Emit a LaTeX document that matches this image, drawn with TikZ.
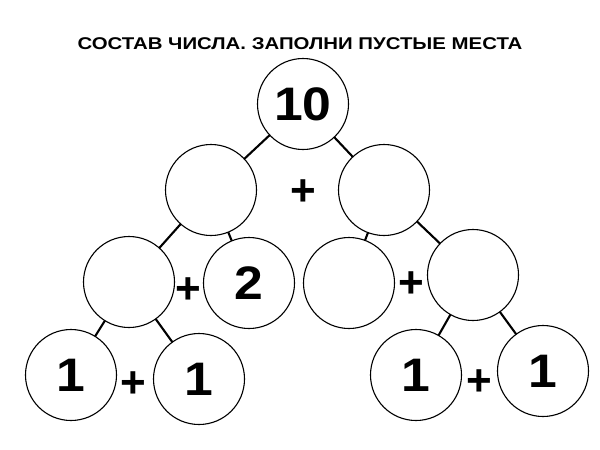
\documentclass[tikz,border=0pt]{standalone}
\usepackage{fontspec}
\setmainfont{Liberation Sans}
\newcommand{\digs}[1]{\scalebox{1.1}[1]{#1}}
\begin{document}
\begin{tikzpicture}[x=1pt,y=-1pt,
  num/.style={circle,draw=black,line width=1.1pt,minimum size=91pt,inner sep=0pt,outer sep=0pt,
    font=\fontsize{47}{47}\selectfont\bfseries},
  plussign/.style={inner sep=0pt,font=\fontsize{44}{44}\selectfont\bfseries},
  link/.style={line width=2.1pt,draw=black},
  titletext/.style={anchor=base,inner sep=0pt,font=\fontsize{17}{17}\selectfont\bfseries}]
\fill[white] (0,0) rectangle (600,450);
\useasboundingbox (0,0) rectangle (600,450);
\node[titletext] (title) at (300,49) {\scalebox{1.2}[1]{СОСТАВ ЧИСЛА. ЗАПОЛНИ ПУСТЫЕ МЕСТА}};
% circles
\node[num] (A) at (303,104) {\digs{10}};
\node[num] (B) at (211,190) {};
\node[num] (C) at (384,190) {};
\node[num] (D) at (129,282) {};
\node[num] (E) at (249,283) {\digs{2}};
\node[num] (F) at (349,283) {};
\node[num] (G) at (473,275) {};
\node[num] (H) at (71,375) {\digs{1}};
\node[num] (I) at (199,379) {\digs{1}};
\node[num] (J) at (416,375) {\digs{1}};
\node[num] (K) at (543,371) {\digs{1}};
% plus signs
\node[plussign] (p1) at (303,193) {+};
\node[plussign] (p2) at (188,291) {+};
\node[plussign] (p3) at (411,285) {+};
\node[plussign] (p4) at (133,385) {+};
\node[plussign] (p5) at (479,383) {+};
% connectors
\draw[link] (A) -- (B);
\draw[link] (A) -- (C);
\draw[link] (B) -- (D);
\draw[link] (B) -- (E);
\draw[link] (C) -- (F);
\draw[link] (C) -- (G);
\draw[link] (D) -- (H);
\draw[link] (D) -- (I);
\draw[link] (G) -- (J);
\draw[link] (G) -- (K);
\end{tikzpicture}
\end{document}
